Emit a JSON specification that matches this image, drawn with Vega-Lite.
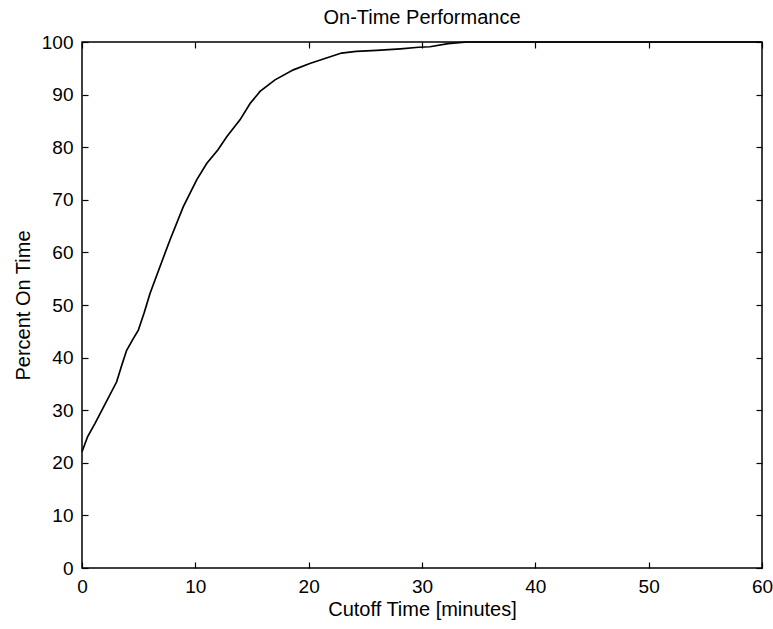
{
  "$schema": "https://vega.github.io/schema/vega-lite/v6.json",
  "width": 680,
  "height": 526,
  "autosize": {"type": "none"},
  "padding": {"left": 82, "top": 42, "right": 11, "bottom": 61},
  "background": "white",
  "config": {
    "font": "Liberation Sans",
    "view": {"stroke": "black", "strokeWidth": 1.5},
    "axis": {"grid": false, "domain": false, "tickColor": "black", "labelColor": "black", "titleColor": "black", "labelFontSize": 19, "titleFontSize": 20, "titleFontWeight": "normal", "tickSize": -6, "tickWidth": 1.2}
  },
  "title": {"text": "On-Time Performance", "fontSize": 20, "fontWeight": "normal", "color": "black", "offset": 5},
  "data": {"values": [
    {"t": 0, "p": 22.1}, {"t": 0.5, "p": 25}, {"t": 1.15, "p": 27.5}, {"t": 2, "p": 31},
    {"t": 3.06, "p": 35.4}, {"t": 3.5, "p": 38.5}, {"t": 3.94, "p": 41.4}, {"t": 4.5, "p": 43.5},
    {"t": 4.97, "p": 45.2}, {"t": 5.5, "p": 48.6}, {"t": 6.0, "p": 52.2}, {"t": 6.59, "p": 55.6},
    {"t": 7.0, "p": 58}, {"t": 7.77, "p": 62.4}, {"t": 8.94, "p": 68.7}, {"t": 10.12, "p": 73.8},
    {"t": 11.0, "p": 76.9}, {"t": 12.0, "p": 79.5}, {"t": 12.77, "p": 82.0}, {"t": 13.94, "p": 85.2},
    {"t": 14.83, "p": 88.3}, {"t": 15.71, "p": 90.6}, {"t": 17.03, "p": 92.8}, {"t": 18.65, "p": 94.7},
    {"t": 20.1, "p": 95.9}, {"t": 21.5, "p": 96.9}, {"t": 22.9, "p": 97.9}, {"t": 24.2, "p": 98.2},
    {"t": 26.0, "p": 98.4}, {"t": 28.1, "p": 98.7}, {"t": 29.7, "p": 99.0}, {"t": 30.7, "p": 99.1},
    {"t": 32.3, "p": 99.7}, {"t": 34, "p": 100}, {"t": 60, "p": 100}
  ]},
  "layer": [
    {
      "mark": {"type": "line", "color": "black", "strokeWidth": 1.7},
      "encoding": {
        "x": {"field": "t", "type": "quantitative", "scale": {"domain": [0, 60], "nice": false}, "axis": {"orient": "bottom", "values": [0, 10, 20, 30, 40, 50, 60], "title": "Cutoff Time [minutes]", "labelPadding": 15, "titlePadding": 3, "labelFlush": false}},
        "y": {"field": "p", "type": "quantitative", "scale": {"domain": [0, 100], "nice": false}, "axis": {"orient": "left", "values": [0, 10, 20, 30, 40, 50, 60, 70, 80, 90, 100], "title": "Percent On Time", "labelPadding": 15, "titlePadding": 8, "labelFlush": false}}
      }
    },
    {
      "mark": {"type": "line", "color": "black", "strokeWidth": 1.6, "opacity": 0},
      "encoding": {
        "x": {"field": "t", "type": "quantitative", "scale": {"domain": [0, 60], "nice": false}, "axis": {"orient": "top", "values": [0, 10, 20, 30, 40, 50, 60], "title": null, "labels": false}},
        "y": {"field": "p", "type": "quantitative", "scale": {"domain": [0, 100], "nice": false}, "axis": {"orient": "right", "values": [0, 10, 20, 30, 40, 50, 60, 70, 80, 90, 100], "title": null, "labels": false}}
      }
    }
  ],
  "resolve": {"axis": {"x": "independent", "y": "independent"}}
}
